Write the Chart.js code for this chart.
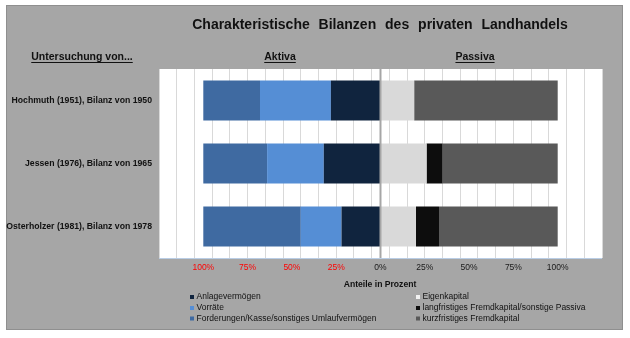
<!DOCTYPE html>
<html>
<head>
<meta charset="utf-8">
<script src="https://cdn.jsdelivr.net/npm/chart.js@4"></script>
<style>
  html, body { margin: 0; padding: 0; background: #fff; }
  #wrap { width: 630px; height: 338px; }
</style>
</head>
<body>
<div id="wrap"><canvas id="bilanzChart" width="630" height="338"></canvas></div>
<script>
// Untersuchungen (Kategorien)
const categories = [
  "Hochmuth (1951), Bilanz von 1950",
  "Jessen (1976), Bilanz von 1965",
  "Osterholzer (1981), Bilanz von 1978"
];

// Aktiva (Anteile in %, werden nach links gezeichnet)
const anlagevermoegen = [28, 32, 22];
const vorraete = [40, 32, 23];
const forderungen = [32, 36, 55];

// Passiva (Anteile in %)
const eigenkapital = [19, 26, 20];
const langfristig = [0, 9, 13];
const kurzfristig = [81, 65, 67];

// Achsenbeschriftung
const tickLabels = [-100, -75, -50, -25, 0, 25, 50, 75, 100];

const FONT = "'Liberation Sans', Arial, sans-serif";

const neg = arr => arr.map(v => -v);

// Legende: linke Spalte Aktiva, rechte Spalte Passiva
const legendLeft = [
  { text: "Anlagevermögen", color: "#10243e" },
  { text: "Vorräte", color: "#558ed5" },
  { text: "Forderungen/Kasse/sonstiges Umlaufvermögen", color: "#3f6aa1" }
];
const legendRight = [
  { text: "Eigenkapital", color: "#f2f2f2" },
  { text: "langfristiges Fremdkapital/sonstige Passiva", color: "#0d0d0d" },
  { text: "kurzfristiges Fremdkapital", color: "#595959" }
];

// Hintergrund, Rahmen, Überschriften und Legende
const framePlugin = {
  id: "frame",
  beforeDraw(chart) {
    const ctx = chart.ctx;
    const a = chart.chartArea;
    ctx.save();
    ctx.fillStyle = "#ffffff";
    ctx.fillRect(0, 0, chart.width, chart.height);
    ctx.fillStyle = "#a6a6a6";
    ctx.fillRect(6, 5, 617, 325);
    ctx.strokeStyle = "#8f8f8f";
    ctx.lineWidth = 1;
    ctx.strokeRect(6.5, 5.5, 616, 324);
    ctx.fillStyle = "#ffffff";
    ctx.fillRect(a.left, a.top, a.right - a.left, a.bottom - a.top);
    ctx.restore();
  },
  afterDatasetsDraw(chart) {
    // Mittellinie bei 0 %
    const ctx = chart.ctx;
    const a = chart.chartArea;
    const x0 = chart.scales.x.getPixelForValue(0);
    ctx.save();
    ctx.strokeStyle = "#a6a6a6";
    ctx.lineWidth = 2;
    ctx.beginPath();
    ctx.moveTo(x0, a.top);
    ctx.lineTo(x0, a.bottom);
    ctx.stroke();
    ctx.strokeStyle = "#b9cde5";
    ctx.lineWidth = 1;
    ctx.beginPath();
    ctx.moveTo(a.left, a.bottom + 0.5);
    ctx.lineTo(a.right, a.bottom + 0.5);
    ctx.stroke();
    ctx.restore();
  },
  afterDraw(chart) {
    const ctx = chart.ctx;
    ctx.save();
    ctx.fillStyle = "#111111";
    ctx.textBaseline = "middle";

    // Titel
    ctx.font = "bold 14px " + FONT;
    ctx.textAlign = "center";
    ctx.wordSpacing = "5px";
    ctx.fillText("Charakteristische Bilanzen des privaten Landhandels", 380, 25);
    ctx.wordSpacing = "0px";

    // unterstrichene Spaltenköpfe
    const underlined = (txt, cx, cy) => {
      ctx.font = "bold 10.5px " + FONT;
      ctx.textAlign = "center";
      ctx.fillText(txt, cx, cy);
      const w = ctx.measureText(txt).width;
      ctx.fillRect(cx - w / 2, cy + 5, w, 1);
    };
    underlined("Untersuchung von...", 82, 57);
    underlined("Aktiva", 280, 57);
    underlined("Passiva", 475, 57);

    // Achsentitel
    ctx.font = "bold 8.6px " + FONT;
    ctx.textAlign = "center";
    ctx.fillText("Anteile in Prozent", 380, 285);

    // Legende in zwei Spalten
    ctx.font = "8.5px " + FONT;
    ctx.textAlign = "left";
    const rows = [297, 308, 318.5];
    const drawCol = (items, sx) => {
      items.forEach((it, i) => {
        ctx.fillStyle = it.color;
        ctx.fillRect(sx - 2, rows[i] - 2, 4, 4);
        ctx.fillStyle = "#111111";
        ctx.fillText(it.text, sx + 4.5, rows[i]);
      });
    };
    drawCol(legendLeft, 192);
    drawCol(legendRight, 418);
    ctx.restore();
  }
};

const ctx = document.getElementById("bilanzChart").getContext("2d");

new Chart(ctx, {
  type: "bar",
  data: {
    labels: categories,
    datasets: [
      { label: "Anlagevermögen", data: neg(anlagevermoegen), backgroundColor: "#10243e" },
      { label: "Vorräte", data: neg(vorraete), backgroundColor: "#558ed5" },
      { label: "Forderungen/Kasse/sonstiges Umlaufvermögen", data: neg(forderungen), backgroundColor: "#3f6aa1" },
      { label: "Eigenkapital", data: eigenkapital, backgroundColor: "#d9d9d9" },
      { label: "langfristiges Fremdkapital/sonstige Passiva", data: langfristig, backgroundColor: "#0d0d0d" },
      { label: "kurzfristiges Fremdkapital", data: kurzfristig, backgroundColor: "#595959" }
    ]
  },
  options: {
    indexAxis: "y",
    responsive: false,
    animation: false,
    layout: { padding: { top: 69, right: 28, bottom: 0, left: 0 } },
    datasets: { bar: { categoryPercentage: 1, barPercentage: 0.635, borderWidth: 0 } },
    plugins: {
      legend: { display: false },
      title: { display: false },
      tooltip: { enabled: false }
    },
    scales: {
      x: {
        type: "linear",
        stacked: true,
        min: -125,
        max: 125,
        afterFit: s => { s.height = 80; },
        border: { display: false },
        grid: {
          drawTicks: false,
          color: c => (Math.abs(c.tick.value) % 10 === 5 ? "#d9d9d9" : "transparent"),
          lineWidth: 1
        },
        ticks: {
          stepSize: 5,
          autoSkip: false,
          maxRotation: 0,
          padding: 5,
          font: { family: FONT, size: 8.5 },
          color: c => (c.tick.value < 0 ? "#ff0000" : "#1a1a1a"),
          callback: v => (tickLabels.includes(v) ? Math.abs(v) + "%" : "")
        }
      },
      y: {
        stacked: true,
        afterFit: s => { s.width = 159; },
        border: { display: false },
        grid: { display: false, drawTicks: false },
        ticks: {
          padding: 7,
          font: { family: FONT, size: 8.7, weight: "bold" },
          color: "#111111"
        }
      }
    }
  },
  plugins: [framePlugin]
});
</script>
</body>
</html>
